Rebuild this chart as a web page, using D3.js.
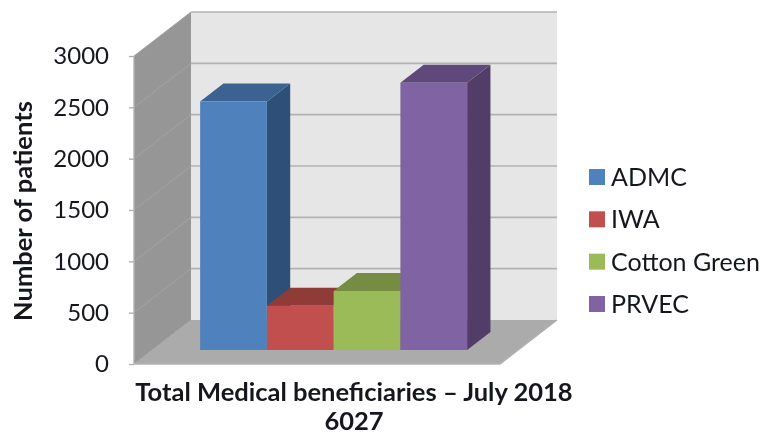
<!DOCTYPE html>
<html>
<head>
<meta charset="utf-8">
<script src="https://cdn.jsdelivr.net/npm/d3@7"></script>
<style>
  html, body { margin: 0; background: #fff; }
  text { font-family: Lato, sans-serif; fill: #15181c; }
</style>
</head>
<body>
<div id="chart"></div>
<script>
const CATEGORIES = ["ADMC", "IWA", "Cotton Green", "PRVEC"]
const VALUES = [2420, 430, 575, 2602]
const COLORS = ["#4f81bd", "#c0504d", "#9bbb59", "#8064a2"]
const TOP_COLORS = ["#3a6290", "#8f3a38", "#748c42", "#5f4a7a"]
const SIDE_COLORS = ["#2f5078", "#7a3230", "#637838", "#513e68"]
const TICKS = [0, 500, 1000, 1500, 2000, 2500, 3000]
const TITLE_LINES = ["Total Medical beneficiaries – July 2018", "6027"]
const Y_LABEL = "Number of patients"

const WIDTH = 776, HEIGHT = 434
const DEPTH_X = 57, DEPTH_Y = 44

const svg = d3.select("#chart").append("svg").attr("width", WIDTH).attr("height", HEIGHT)

const defs = svg.append("defs")
defs.append("filter").attr("id", "soft").append("feGaussianBlur").attr("stdDeviation", 0.5)

const root = svg.append("g").attr("filter", "url(#soft)")

// scales
const xPlot = d3.scaleLinear().domain([0, 1]).range([134, 500])
const xBand = d3.scaleBand().domain(CATEGORIES).range([182, 449])
const y = d3.scaleLinear().domain([0, 3000]).range([364, 56])

// front-plane x, value, depth 0..1 -> screen point
const pt = (x, v, d) => [x + DEPTH_X * d, y(v) - DEPTH_Y * d]
const poly = pts => d3.line()(pts) + "Z"

const x0 = xPlot(0), x1 = xPlot(1)

// walls and floor
root.append("path").attr("fill", "#969696")
  .attr("d", poly([pt(x0, 0, 0), pt(x0, 3000, 0), pt(x0, 3000, 1), pt(x0, 0, 1)]))
root.append("path").attr("fill", "#e6e6e6")
  .attr("d", poly([pt(x0, 0, 1), pt(x0, 3000, 1), pt(x1, 3000, 1), pt(x1, 0, 1)]))
root.append("path").attr("fill", "#ababab")
  .attr("d", poly([pt(x0, 0, 0), pt(x1, 0, 0), pt(x1, 0, 1), pt(x0, 0, 1)]))

// gridlines: faint on the side wall, stronger on the back wall
root.append("g").selectAll("path").data(TICKS).join("path")
  .attr("fill", "none")
  .attr("stroke", "#a3a3a3")
  .attr("stroke-width", 1)
  .attr("d", t => d3.line()([pt(x0, t, 0), pt(x0, t, 1)]))
root.append("g").selectAll("path").data(TICKS.filter(t => t > 0)).join("path")
  .attr("fill", "none")
  .attr("stroke", "#b2b2b2")
  .attr("stroke-width", 1.6)
  .attr("d", t => d3.line()([pt(x0, t, 1), pt(x1, t, 1)]))

root.append("path").attr("fill", "none").attr("stroke", "#b2b2b2").attr("stroke-width", 1.4)
  .attr("d", d3.line()([pt(x0, 0, 0), pt(x0, 3000, 0)]))
root.append("path").attr("fill", "none").attr("stroke", "#b2b2b2").attr("stroke-width", 1.4)
  .attr("d", d3.line()([pt(x0, 0, 0), pt(x1, 0, 0), pt(x1, 0, 1)]))

// bars, back to front
const D_FRONT = 14 / 44, D_BACK = 32 / 44
const bars = root.append("g").selectAll("g").data(CATEGORIES).join("g")

bars.append("path").attr("fill", (c, i) => SIDE_COLORS[i]).attr("d", (c, i) => {
  const r = xBand(c) + xBand.bandwidth()
  return poly([pt(r, 0, D_FRONT), pt(r, VALUES[i], D_FRONT), pt(r, VALUES[i], D_BACK), pt(r, 0, D_BACK)])
})
bars.append("path").attr("fill", (c, i) => TOP_COLORS[i]).attr("d", (c, i) => {
  const l = xBand(c), r = l + xBand.bandwidth()
  return poly([pt(l, VALUES[i], D_FRONT), pt(r, VALUES[i], D_FRONT), pt(r, VALUES[i], D_BACK), pt(l, VALUES[i], D_BACK)])
})
bars.append("path").attr("fill", (c, i) => COLORS[i]).attr("d", (c, i) => {
  const l = xBand(c), r = l + xBand.bandwidth()
  return poly([pt(l, 0, D_FRONT), pt(l, VALUES[i], D_FRONT), pt(r, VALUES[i], D_FRONT), pt(r, 0, D_FRONT)])
})

// y axis
const axis = root.append("g").attr("transform", `translate(${x0},0)`)
  .call(d3.axisLeft(y).tickValues(TICKS).tickFormat(d3.format("d")).tickSize(5).tickPadding(20))
axis.select(".domain").remove()
axis.selectAll("line").attr("stroke", "#b2b2b2").attr("stroke-width", 1.4)
axis.selectAll("text").attr("font-size", 24).style("font-family", "Lato, sans-serif").attr("fill", "#15181c")

root.append("text").attr("transform", "translate(32,211) rotate(-90)")
  .attr("text-anchor", "middle").attr("font-size", 25.5).attr("font-weight", 700).text(Y_LABEL)

root.append("g").selectAll("text").data(TITLE_LINES).join("text")
  .attr("x", 354).attr("y", (d, i) => 401 + i * 29)
  .attr("text-anchor", "middle").attr("font-size", 25.5).attr("font-weight", 700).text(d => d)

// legend
const legendY = d3.scalePoint().domain(CATEGORIES).range([177, 304])
const legend = root.append("g").selectAll("g").data(CATEGORIES).join("g")
  .attr("transform", c => `translate(589,${legendY(c)})`)
legend.append("rect").attr("y", -8).attr("width", 16).attr("height", 16).attr("fill", (c, i) => COLORS[i])
legend.append("text").attr("x", 22).attr("y", 9).attr("font-size", 25).text(c => c)
</script>
</body>
</html>
